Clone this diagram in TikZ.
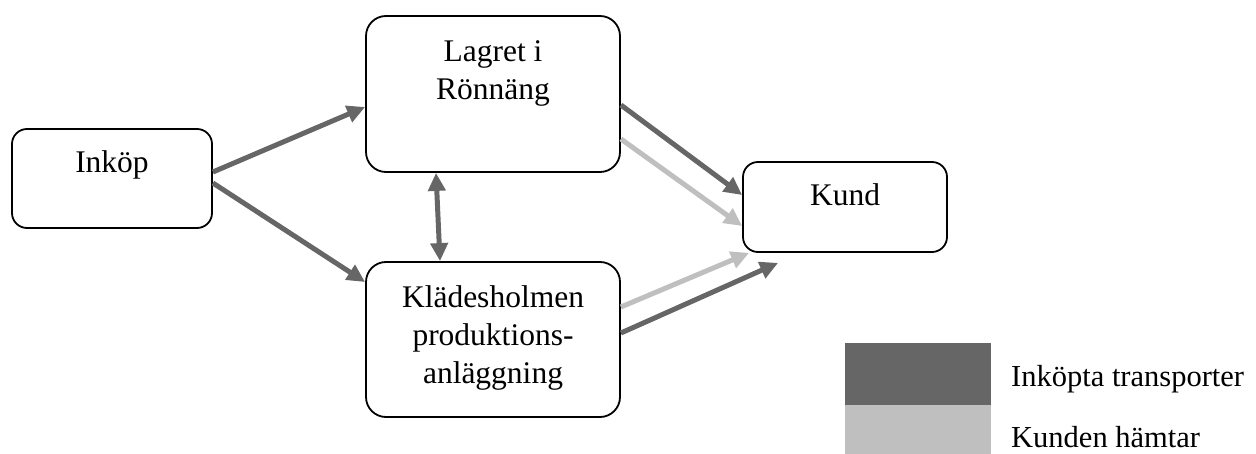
\documentclass[tikz,border=0pt]{standalone}
\usepackage{fontspec}
\setmainfont{Liberation Serif}
\usetikzlibrary{arrows.meta}
\definecolor{darkflow}{HTML}{666666}
\definecolor{lightflow}{HTML}{BFBFBF}
\tikzset{
  box/.style={draw=black, line width=1.8pt, rounded corners=#1, inner sep=0pt},
  box/.default=20pt,
  lbl/.style={inner sep=0pt, anchor=north, align=center,
    font=\fontsize{31.5}{38}\selectfont},
  legtext/.style={inner sep=0pt, anchor=base west,
    font=\fontsize{30.5}{38}\selectfont},
  tip/.style={-{Triangle[length=18pt,width=17pt]}},
  flowdark/.style={draw=darkflow, line width=5pt, tip},
  flowlight/.style={draw=lightflow, line width=5pt, tip}
}
\begin{document}
\begin{tikzpicture}[x=1pt,y=-1pt]
\useasboundingbox (0,0) rectangle (1256,454);

% boxes
\node[box=15pt, minimum width=200pt, minimum height=99pt] (inkop) at (112,178.5) {};
\node[box, minimum width=254pt, minimum height=156pt] (lagret) at (493,94) {};
\node[box, minimum width=254pt, minimum height=155pt] (klad) at (493,339.5) {};
\node[box=15pt, minimum width=204pt, minimum height=90pt] (kund) at (845,207) {};

% box texts, set from the top of each box
\node[lbl] (inkoptext) at ([yshift=-22.5pt]inkop.north) {Inköp};
\node[lbl] (lagrettext) at ([yshift=-25.5pt]lagret.north) {Lagret i\\Rönnäng};
\node[lbl] (kladtext) at ([yshift=-24.5pt]klad.north) {Klädesholmen\\produktions-\\anläggning};
\node[lbl] (kundtext) at ([yshift=-22.5pt]kund.north) {Kund};

% flows
\draw[flowdark] ([yshift=6.5pt]inkop.east) -- ([yshift=-13pt]lagret.west);
\draw[flowdark] ([yshift=-4.5pt]inkop.east) -- ([yshift=57.5pt]klad.west);
\draw[draw=darkflow, line width=5pt, {Triangle[length=18pt,width=17pt]}-{Triangle[length=18pt,width=17pt]}]
  ([xshift=-57pt]lagret.south) -- ([xshift=-53pt]klad.north);
\draw[flowdark] ([yshift=-11pt]lagret.east) -- ([yshift=12pt]kund.west);
\draw[flowlight] ([yshift=-45pt]lagret.east) -- ([yshift=-19pt]kund.west);
\draw[flowlight] ([yshift=32.5pt]klad.east) -- ([xshift=7pt]kund.south west);
\draw[flowdark] ([yshift=6.5pt]klad.east) -- ([xshift=36pt,yshift=-10pt]kund.south west);

% legend
\node[fill=darkflow, inner sep=0pt, minimum width=146pt, minimum height=62pt] (legdark) at (918,374) {};
\node[fill=lightflow, inner sep=0pt, minimum width=146pt, minimum height=49pt, anchor=north] (leglight) at (legdark.south) {};
\node[legtext] (legdarktext) at (1011,386) {Inköpta transporter};
\node[legtext] (leglighttext) at (1011,447) {Kunden hämtar};
\end{tikzpicture}
\end{document}
